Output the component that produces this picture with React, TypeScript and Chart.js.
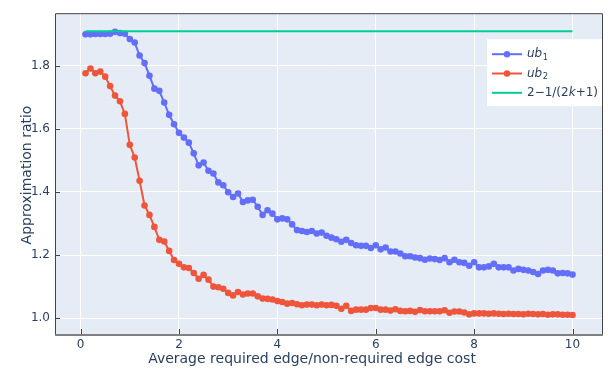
import { useEffect, useRef } from "react";
import { Chart, registerables } from "chart.js";

Chart.register(...registerables);

const xValues = [
  0.1, 0.2, 0.3, 0.4, 0.5, 0.6, 0.7, 0.8, 0.9, 1.0,
  1.1, 1.2, 1.3, 1.4, 1.5, 1.6, 1.7, 1.8, 1.9, 2.0,
  2.1, 2.2, 2.3, 2.4, 2.5, 2.6, 2.7, 2.8, 2.9, 3.0,
  3.1, 3.2, 3.3, 3.4, 3.5, 3.6, 3.7, 3.8, 3.9, 4.0,
  4.1, 4.2, 4.3, 4.4, 4.5, 4.6, 4.7, 4.8, 4.9, 5.0,
  5.1, 5.2, 5.3, 5.4, 5.5, 5.6, 5.7, 5.8, 5.9, 6.0,
  6.1, 6.2, 6.3, 6.4, 6.5, 6.6, 6.7, 6.8, 6.9, 7.0,
  7.1, 7.2, 7.3, 7.4, 7.5, 7.6, 7.7, 7.8, 7.9, 8.0,
  8.1, 8.2, 8.3, 8.4, 8.5, 8.6, 8.7, 8.8, 8.9, 9.0,
  9.1, 9.2, 9.3, 9.4, 9.5, 9.6, 9.7, 9.8, 9.9, 10.0,
];

const ub1Values = [
  1.899, 1.899, 1.900, 1.900, 1.900, 1.901, 1.907, 1.903, 1.901, 1.884,
  1.873, 1.832, 1.808, 1.768, 1.727, 1.720, 1.683, 1.644, 1.614, 1.587,
  1.572, 1.556, 1.522, 1.484, 1.493, 1.467, 1.458, 1.430, 1.421, 1.399,
  1.384, 1.395, 1.368, 1.373, 1.375, 1.353, 1.327, 1.342, 1.331, 1.313,
  1.316, 1.313, 1.297, 1.279, 1.276, 1.273, 1.276, 1.268, 1.271, 1.261,
  1.255, 1.250, 1.242, 1.248, 1.238, 1.231, 1.229, 1.229, 1.222, 1.231,
  1.218, 1.224, 1.211, 1.211, 1.205, 1.196, 1.196, 1.192, 1.190, 1.185,
  1.189, 1.187, 1.184, 1.190, 1.177, 1.185, 1.177, 1.175, 1.166, 1.177,
  1.161, 1.161, 1.164, 1.172, 1.161, 1.161, 1.161, 1.151, 1.156, 1.153,
  1.151, 1.146, 1.140, 1.151, 1.153, 1.151, 1.142, 1.143, 1.142, 1.138,
];

const ub2Values = [
  1.776, 1.791, 1.776, 1.781, 1.765, 1.735, 1.705, 1.687, 1.647, 1.549,
  1.509, 1.435, 1.357, 1.327, 1.289, 1.248, 1.243, 1.213, 1.184, 1.172,
  1.161, 1.159, 1.143, 1.125, 1.137, 1.122, 1.100, 1.098, 1.093, 1.080,
  1.072, 1.083, 1.075, 1.078, 1.078, 1.069, 1.062, 1.061, 1.059, 1.054,
  1.051, 1.046, 1.048, 1.044, 1.041, 1.043, 1.043, 1.041, 1.043, 1.041,
  1.042, 1.039, 1.030, 1.039, 1.023, 1.027, 1.027, 1.027, 1.032, 1.032,
  1.027, 1.027, 1.024, 1.028, 1.023, 1.022, 1.023, 1.020, 1.026, 1.022,
  1.022, 1.022, 1.022, 1.025, 1.017, 1.021, 1.021, 1.018, 1.012, 1.015,
  1.015, 1.015, 1.014, 1.015, 1.014, 1.013, 1.014, 1.013, 1.013, 1.012,
  1.014, 1.013, 1.012, 1.013, 1.011, 1.012, 1.012, 1.011, 1.011, 1.010,
];

const boundX = [0.1, 10];
const boundValues = [1.909, 1.909];

const xTicks = [0, 2, 4, 6, 8, 10];
const yTicks = [1.0, 1.2, 1.4, 1.6, 1.8];

const xTitle = "Average required edge/non-required edge cost";
const yTitle = "Approximation ratio";

const BLUE = "#636efa";
const RED = "#EF553B";
const GREEN = "#00cc96";
const TEXT = "#2a3f5f";
const FONT = "'DejaVu Sans', verdana, arial, sans-serif";

const toPoints = (xs: number[], ys: number[]) => xs.map((x, i) => ({ x, y: ys[i] }));

const plotStyle = {
  id: "plotStyle",
  beforeDraw(chart: any) {
    const { ctx, chartArea: a } = chart;
    ctx.save();
    ctx.fillStyle = "#E5ECF6";
    ctx.fillRect(a.left, a.top, a.right - a.left, a.bottom - a.top);
    ctx.restore();
  },
  afterDraw(chart: any) {
    const { ctx, chartArea: a, scales } = chart;
    ctx.save();

    // legend
    const bx = a.right - 116;
    const by = a.top + 26;
    ctx.fillStyle = "#ffffff";
    ctx.fillRect(bx, by, a.right - bx, 67);
    const rows = [
      { color: BLUE, marker: true, sub: "1" },
      { color: RED, marker: true, sub: "2" },
      { color: GREEN, marker: false, sub: "" },
    ];
    rows.forEach((r, i) => {
      const y = by + 15 + i * 19.3;
      ctx.strokeStyle = r.color;
      ctx.lineWidth = 2;
      ctx.beginPath();
      ctx.moveTo(bx + 5, y);
      ctx.lineTo(bx + 35, y);
      ctx.stroke();
      if (r.marker) {
        ctx.fillStyle = r.color;
        ctx.beginPath();
        ctx.arc(bx + 20, y, 3.2, 0, Math.PI * 2);
        ctx.fill();
      }
      ctx.fillStyle = TEXT;
      ctx.textBaseline = "middle";
      ctx.textAlign = "left";
      let tx = bx + 40;
      if (r.sub) {
        ctx.font = `italic 12px ${FONT}`;
        ctx.fillText("ub", tx, y);
        tx += ctx.measureText("ub").width + 0.5;
        ctx.font = `8.4px ${FONT}`;
        ctx.fillText(r.sub, tx, y + 3.5);
      } else {
        const parts: [string, boolean][] = [
          ["2−1/(2", false],
          ["k", true],
          ["+1)", false],
        ];
        parts.forEach(([s, it]) => {
          ctx.font = `${it ? "italic " : ""}12px ${FONT}`;
          ctx.fillText(s, tx, y);
          tx += ctx.measureText(s).width;
        });
      }
    });

    // axis frame
    ctx.strokeStyle = "#444";
    ctx.lineWidth = 1;
    ctx.beginPath();
    ctx.moveTo(a.left - 0.5, a.bottom);
    ctx.lineTo(a.left - 0.5, a.top + 0.5);
    ctx.lineTo(a.right - 0.5, a.top + 0.5);
    ctx.lineTo(a.right - 0.5, a.bottom);
    ctx.stroke();
    ctx.strokeStyle = "#808080";
    ctx.lineWidth = 2;
    ctx.beginPath();
    ctx.moveTo(a.left - 1, a.bottom + 1);
    ctx.lineTo(a.right, a.bottom + 1);
    ctx.stroke();

    // ticks (inside)
    ctx.strokeStyle = "#444";
    ctx.lineWidth = 1;
    ctx.beginPath();
    xTicks.forEach((v) => {
      const px = Math.round(scales.x.getPixelForValue(v)) + 0.5;
      ctx.moveTo(px, a.bottom);
      ctx.lineTo(px, a.bottom - 5);
    });
    yTicks.forEach((v) => {
      const py = Math.round(scales.y.getPixelForValue(v)) + 0.5;
      ctx.moveTo(a.left - 1, py);
      ctx.lineTo(a.left + 4, py);
    });
    ctx.stroke();

    // axis titles
    ctx.fillStyle = TEXT;
    ctx.font = `14px ${FONT}`;
    ctx.textAlign = "center";
    ctx.textBaseline = "middle";
    ctx.fillText(xTitle, 312, 359.5);
    ctx.translate(27.5, 175);
    ctx.rotate(-Math.PI / 2);
    ctx.fillText(yTitle, 0, 0);
    ctx.restore();
  },
};

export default function App() {
  const ref = useRef<HTMLCanvasElement | null>(null);
  useEffect(() => {
    if (!ref.current) return;
    const chart = new Chart(ref.current, {
      type: "line",
      data: {
        datasets: [
          {
            label: "ub1",
            data: toPoints(xValues, ub1Values),
            borderColor: BLUE,
            backgroundColor: BLUE,
            pointBackgroundColor: BLUE,
            pointBorderWidth: 0,
            pointRadius: 3.3,
            borderWidth: 2,
            order: 3,
          },
          {
            label: "ub2",
            data: toPoints(xValues, ub2Values),
            borderColor: RED,
            backgroundColor: RED,
            pointBackgroundColor: RED,
            pointBorderWidth: 0,
            pointRadius: 3.3,
            borderWidth: 2,
            order: 2,
          },
          {
            label: "2−1/(2k+1)",
            data: toPoints(boundX, boundValues),
            borderColor: GREEN,
            backgroundColor: GREEN,
            pointRadius: 0,
            borderWidth: 2,
            order: 1,
          },
        ],
      },
      options: {
        responsive: false,
        animation: false,
        events: [],
        layout: { padding: { left: 0, right: 5, top: 10, bottom: 0 } },
        plugins: { legend: { display: false }, tooltip: { enabled: false } },
        scales: {
          x: {
            type: "linear",
            min: -0.5,
            max: 10.62,
            afterBuildTicks: (s: any) => {
              s.ticks = xTicks.map((v) => ({ value: v }));
            },
            afterFit: (s: any) => {
              s.height = 38;
            },
            grid: { color: "#ffffff", lineWidth: 1, drawTicks: false },
            border: { display: false },
            ticks: {
              padding: 3.6,
              color: TEXT,
              font: { family: FONT, size: 12 },
              maxRotation: 0,
              autoSkip: false,
              callback: (v: any) => String(v),
            },
            title: { display: false, text: xTitle },
          },
          y: {
            type: "linear",
            min: 0.9498,
            max: 1.966,
            afterBuildTicks: (s: any) => {
              s.ticks = yTicks.map((v) => ({ value: v }));
            },
            afterFit: (s: any) => {
              s.width = 56;
            },
            grid: { color: "#ffffff", lineWidth: 1, drawTicks: false },
            border: { display: false },
            ticks: {
              padding: 6,
              color: TEXT,
              font: { family: FONT, size: 12 },
              autoSkip: false,
              callback: (v: any) => Number(v).toFixed(1),
            },
            title: { display: false, text: yTitle },
          },
        },
      },
      plugins: [plotStyle],
    } as any);
    return () => chart.destroy();
  }, []);
  return (
    <div style={{ position: "fixed", left: 0, top: 0, width: 608, height: 372, background: "#fff" }}>
      <canvas ref={ref} width={608} height={372} style={{ display: "block" }} />
    </div>
  );
}
